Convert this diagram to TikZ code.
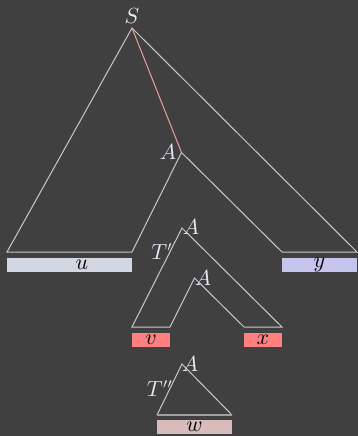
\documentclass[tikz,border=0pt]{standalone}
\definecolor{bgdark}{HTML}{404040}
\definecolor{edgegray}{HTML}{C8C8C8}
\definecolor{pathred}{HTML}{E8A098}
\definecolor{labwhite}{HTML}{E6E6F4}
\definecolor{ucol}{HTML}{D3D7E2}
\definecolor{ycol}{HTML}{C4C4EC}
\definecolor{vxcol}{HTML}{FF8080}
\definecolor{wcol}{HTML}{D8BCBC}
\usetikzlibrary{calc}

\begin{document}
\begin{tikzpicture}[x=0.5pt, y=-0.5pt,
  edge/.style={draw=edgegray, line width=0.5pt, line join=miter},
  lbl/.style={text=labwhite, inner sep=0pt, font=\fontsize{10.5}{12}\selectfont},
  bar/.style={inner sep=0pt, minimum height=6.8pt, font=\fontsize{10.5}{12}\selectfont, text=black}]
  % background
  \fill[bgdark] (0,0) rectangle (358,436);

  % outer tree S
  \coordinate (S) at (132,28);
  \coordinate (A1) at (181.5,152.5);
  \coordinate (uL) at (7,252);
  \coordinate (uR) at (132,252);
  \coordinate (yL) at (282,252);
  \coordinate (yR) at (357,252);
  \draw[edge] (S) -- (uL) -- (uR) -- (A1) -- (yL) -- (yR) -- cycle;
  \draw[pathred, line width=0.5pt] (S) -- (A1);
  \node[lbl] (Slbl) at (132,16) {$S$};
  \node[lbl] (A1lbl) at (168,152.5) {$A$};

  % pumping tree T'
  \coordinate (A2) at (182,228);
  \coordinate (A3) at (194.5,278);
  \coordinate (vL) at (132,327);
  \coordinate (vR) at (170,327);
  \coordinate (xL) at (244,327);
  \coordinate (xR) at (282,327);
  \draw[edge] (A2) -- (vL) -- (vR) -- (A3) -- (xL) -- (xR) -- cycle;
  \node[lbl] (A2lbl) at (191,227.5) {$A$};
  \node[lbl] (A3lbl) at (203,278) {$A$};
  \node[lbl] (Tp) at (162,252) {$T'$};

  % tree T''
  \coordinate (A4) at (182,364);
  \coordinate (wL) at (157,415);
  \coordinate (wR) at (232,415);
  \draw[edge] (wL) -- (A4) -- (wR);
  \draw[draw=edgegray!70!bgdark, line width=1pt] (wL) -- (wR);
  \node[lbl] (A4lbl) at (190,364.5) {$A$};
  \node[lbl] (Tpp) at (160,389) {$T''$};

  % yield strings
  \node[bar, fill=ucol, minimum width=62.5pt] (u) at (69.5,265) {\hspace*{12.5pt}$u$};
  \node[bar, fill=ycol, minimum width=37.5pt] (y) at (319.5,265) {$y$};
  \node[bar, fill=vxcol, minimum width=19pt] (v) at (151,340) {$v$};
  \node[bar, fill=vxcol, minimum width=19pt] (x) at (263,340) {$x$};
  \node[bar, fill=wcol, minimum width=37.5pt] (w) at (194.5,427) {$w$};
\end{tikzpicture}
\end{document}
